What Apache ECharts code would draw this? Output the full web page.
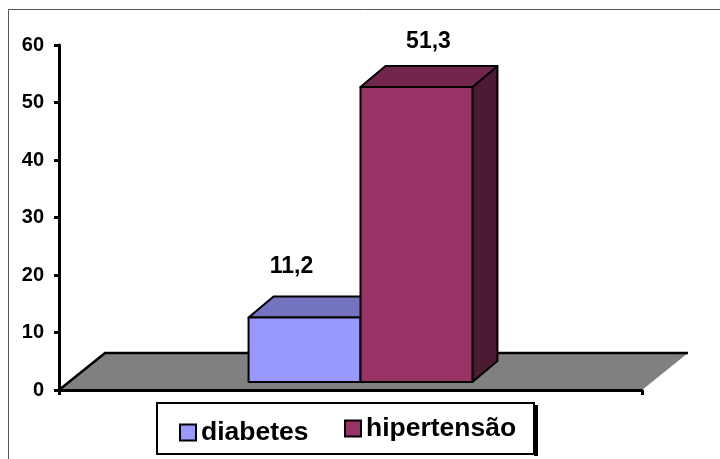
<!DOCTYPE html>
<html>
<head>
<meta charset="utf-8">
<script src="https://cdn.jsdelivr.net/npm/echarts@6/dist/echarts.min.js"></script>
<style>
  html, body { margin: 0; padding: 0; background: #fff; }
  #chart { width: 720px; height: 459px; }
</style>
</head>
<body>
<div id="chart"></div>
<script>
// Data
const categories = [''];
const seriesNames = ['diabetes', 'hipertensão'];
const values = [11.2, 51.3];
const yTicks = { min: 0, max: 60, interval: 10 };

// Face colours for each 3D bar (front, top, right side)
const faceColors = [
  { front: '#9999FF', top: '#7373BF', side: '#4D4D80' },
  { front: '#993366', top: '#73264D', side: '#4D1A33' }
];
// Value label offsets relative to the centre of the bar's top front edge
const labelShift = [{ dx: -13, dy: -51 }, { dx: 12, dy: -45 }];

const FONT = '"Liberation Sans", Arial, sans-serif';
const FLOOR_DX = 46, FLOOR_DY = 37;   // floor depth
const FRONT_DX = 10, FRONT_DY = 8;    // bars stand a little behind the floor's front edge
const BAR_DX = 25, BAR_DY = 21;       // bar depth
const BAR_FRAC = 0.192;               // bar width as a share of the category band

function fmt(v) { return String(v).replace('.', ','); }

function floorRender(params, api) {
  const base = api.coord([0, 0]);
  const w = api.size([1, 0])[0];
  const l = base[0] - w / 2, r = base[0] + w / 2, y = base[1];
  return {
    type: 'group',
    children: [
      { type: 'polygon',
        shape: { points: [[l, y], [r, y], [r + FLOOR_DX, y - FLOOR_DY], [l + FLOOR_DX, y - FLOOR_DY]] },
        style: { fill: '#808080' } },
      { type: 'polyline',
        shape: { points: [[l, y], [l + FLOOR_DX, y - FLOOR_DY], [r + FLOOR_DX, y - FLOOR_DY]] },
        style: { stroke: '#000', lineWidth: 2.5, fill: null } }
    ]
  };
}

function barRender(idx) {
  return function (params, api) {
    const cat = api.value(0);
    const v = api.value(1);
    const base = api.coord([cat, 0]);
    const top = api.coord([cat, v]);
    const w = api.size([1, 0])[0] * BAR_FRAC;
    const x0 = base[0] + FRONT_DX + (idx === 0 ? -w : 0);
    const x1 = x0 + w;
    const yb = base[1] - FRONT_DY;
    const yt = top[1] - FRONT_DY;
    const c = faceColors[idx];
    const edge = { stroke: '#000', lineWidth: 2, lineJoin: 'round' };
    return {
      type: 'group',
      children: [
        { type: 'polygon',
          shape: { points: [[x1, yb], [x1 + BAR_DX, yb - BAR_DY], [x1 + BAR_DX, yt - BAR_DY], [x1, yt]] },
          style: Object.assign({ fill: c.side }, edge) },
        { type: 'polygon',
          shape: { points: [[x0, yt], [x1, yt], [x1 + BAR_DX, yt - BAR_DY], [x0 + BAR_DX, yt - BAR_DY]] },
          style: Object.assign({ fill: c.top }, edge) },
        { type: 'polygon',
          shape: { points: [[x0, yb], [x1, yb], [x1, yt], [x0, yt]] },
          style: Object.assign({ fill: c.front }, edge) },
        { type: 'text',
          x: (x0 + x1) / 2 + labelShift[idx].dx,
          y: yt + labelShift[idx].dy,
          style: { text: fmt(v), fill: '#000', font: 'bold 23px ' + FONT,
                   align: 'center', verticalAlign: 'middle' } }
      ]
    };
  };
}

const chart = echarts.init(document.getElementById('chart'), null, { renderer: 'canvas' });

const legendCommon = {
  orient: 'horizontal', padding: 0, itemWidth: 16, itemHeight: 16,
  selectedMode: false, icon: 'rect',
  itemStyle: { borderColor: '#000', borderWidth: 2 },
  textStyle: { fontFamily: FONT, fontWeight: 'bold', fontSize: 26.5, color: '#000' }
};

chart.setOption({
  animation: false,
  backgroundColor: '#fff',
  grid: { left: 59, right: 78, top: 45, bottom: 69 },
  graphic: [
    { type: 'rect', z: 0, shape: { x: 8.5, y: 9.5, width: 800, height: 600 },
      style: { fill: null, stroke: '#555', lineWidth: 1 } },
    { type: 'rect', z: 0, shape: { x: 534, y: 405, width: 4, height: 51 },
      style: { fill: '#000' } },
    { type: 'rect', z: 0, shape: { x: 157, y: 403, width: 377, height: 51 },
      style: { fill: '#fff', stroke: '#000', lineWidth: 2 } }
  ],
  legend: [
    Object.assign({}, legendCommon, { data: [seriesNames[0]], left: 179, top: 419 }),
    Object.assign({}, legendCommon, { data: [seriesNames[1]], left: 344, top: 415 })
  ],
  xAxis: {
    type: 'category', data: categories, z: 5,
    axisLine: { lineStyle: { color: '#000', width: 3 } },
    axisTick: { show: true, length: 5, lineStyle: { color: '#000', width: 3 } },
    axisLabel: { show: false }
  },
  yAxis: {
    type: 'value', min: yTicks.min, max: yTicks.max, interval: yTicks.interval, z: 5,
    axisLine: { show: true, lineStyle: { color: '#000', width: 3 } },
    axisTick: { show: true, length: 5, lineStyle: { color: '#000', width: 3 } },
    splitLine: { show: false },
    axisLabel: { margin: 15, color: '#000', fontFamily: FONT, fontWeight: 'bold', fontSize: 20 }
  },
  series: [
    { type: 'custom', name: 'floor', renderItem: floorRender, data: [[0, 0]],
      encode: { x: 0, y: 1 }, silent: true },
    { type: 'custom', name: seriesNames[0], renderItem: barRender(0),
      data: [[0, values[0]]], encode: { x: 0, y: 1 },
      itemStyle: { color: faceColors[0].front } },
    { type: 'custom', name: seriesNames[1], renderItem: barRender(1),
      data: [[0, values[1]]], encode: { x: 0, y: 1 },
      itemStyle: { color: faceColors[1].front } }
  ]
});
</script>
</body>
</html>
